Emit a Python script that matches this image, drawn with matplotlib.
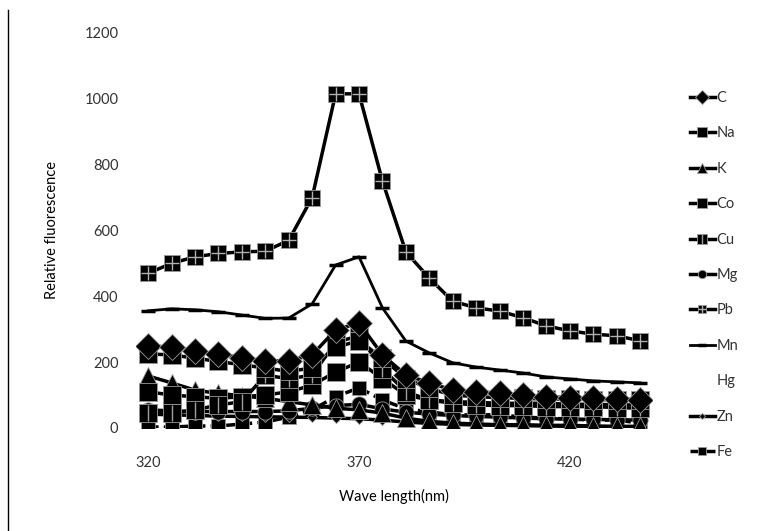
import numpy as np
import matplotlib
matplotlib.use("Agg")
import matplotlib.pyplot as plt
from matplotlib.lines import Line2D
from matplotlib.legend_handler import HandlerTuple

plt.rcParams['font.family'] = ['Lato', 'DejaVu Sans']

# Category axis: 22 readings, labelled every 9th category
n_points = 22
tick_index = [0, 9, 18]
tick_labels = ["320", "370", "420"]

# Relative fluorescence per element
C = [249, 246, 234, 225, 213, 204, 204, 222, 298, 319, 222, 161, 137, 115, 110, 106, 100, 95, 92, 90, 88, 86]
Na = [225, 222, 212, 202, 192, 182, 172, 182, 245, 265, 212, 150, 120, 100, 95, 92, 90, 88, 88, 86, 86, 85]
K = [158, 137, 115, 105, 98, 90, 80, 70, 60, 55, 45, 30, 20, 15, 12, 10, 10, 8, 8, 6, 5, 5]
Co = [110, 100, 95, 90, 95, 100, 110, 130, 170, 200, 150, 100, 85, 80, 78, 75, 75, 75, 72, 72, 70, 70]
Cu = [45, 45, 55, 70, 80, 160, 150, 160, 260, 280, 180, 110, 85, 75, 70, 68, 68, 65, 65, 65, 62, 60]
Mg = [55, 52, 50, 50, 50, 50, 52, 60, 68, 72, 58, 48, 42, 38, 35, 33, 30, 28, 27, 26, 25, 24]
Pb = [470, 500, 520, 530, 535, 537, 570, 700, 1015, 1015, 750, 535, 455, 385, 365, 355, 335, 310, 295, 285, 280, 265]
Mn = [356, 362, 359, 353, 343, 333, 334, 377, 495, 520, 365, 264, 228, 198, 185, 176, 167, 155, 149, 143, 140, 137]
Zn = [42, 40, 38, 36, 35, 34, 33, 32, 30, 28, 24, 18, 14, 11, 9, 8, 7, 6, 5, 4, 4, 3]
Fe = [3, 3, 6, 6, 12, 18, 33, 55, 95, 122, 85, 58, 49, 40, 40, 40, 33, 30, 27, 24, 24, 15]
# Hg is listed in the legend but has no visible line

x = np.arange(n_points)

fig = plt.figure(figsize=(7.58, 5.31), dpi=100)
ax = fig.add_axes([0.180, 0.194, 0.680, 0.744])

lw = 2.5
edge = dict(markeredgecolor="#9a9a9a", markeredgewidth=0.6)

# draw from back to front roughly like the original
h_fe, = ax.plot(x, Fe, color="black", lw=lw, ls=(0, (3, 1.5)), marker="s", ms=10, **edge)
h_zn, = ax.plot(x, Zn, color="black", lw=lw, marker="D", ms=5.5, **edge)
h_mg, = ax.plot(x, Mg, color="black", lw=lw, marker="o", ms=11, **edge)
h_k, = ax.plot(x, K, color="black", lw=lw, marker="^", ms=13, **edge)
h_co, = ax.plot(x, Co, color="black", lw=lw, marker="s", ms=13, **edge)
h_cu, = ax.plot(x, Cu, color="black", lw=lw, marker="s", ms=13, **edge)
h_cu2, = ax.plot(x, Cu, color="none", lw=0, marker="|", ms=12, markeredgecolor="#a0a0a0", markeredgewidth=1.0)
h_na, = ax.plot(x, Na, color="black", lw=lw, marker="s", ms=13, **edge)
h_c, = ax.plot(x, C, color="black", lw=lw, marker="D", ms=13, **edge)
h_mn, = ax.plot(x, Mn, color="black", lw=2.0, marker="_", ms=10, markeredgecolor="black", markeredgewidth=2.5)
h_pb, = ax.plot(x, Pb, color="black", lw=lw, marker="s", ms=11, **edge)
h_pb2, = ax.plot(x, Pb, color="none", lw=0, marker="+", ms=10.5, markeredgecolor="#b0b0b0", markeredgewidth=1.0)
h_hg, = ax.plot([], [], color="none", lw=0)

ax.set_xlim(-0.5, n_points - 0.5)
ax.set_ylim(0, 1200)
ax.set_yticks(range(0, 1201, 200))
ax.set_xticks(tick_index)
ax.set_xticklabels(tick_labels)
for s in ax.spines.values():
    s.set_visible(False)
ax.tick_params(length=0, labelsize=10.5, labelcolor="#333333")
ax.tick_params(axis="y", pad=13)
ax.tick_params(axis="x", pad=20)

ax.set_xlabel("Wave length(nm)", fontsize=10.5, labelpad=14)
ax.set_ylabel("Relative fluorescence", fontsize=10.5, labelpad=18.5)

handles = [h_c, h_na, h_k, h_co, (h_cu, h_cu2), h_mg, (h_pb, h_pb2), h_mn, h_hg, h_zn, h_fe]
labels = ["C", "Na", "K", "Co", "Cu", "Mg", "Pb", "Mn", "Hg", "Zn", "Fe"]
leg = fig.legend(handles, labels, loc="center left", bbox_to_anchor=(0.893, 0.482),
                 frameon=False, fontsize=10.5, handlelength=1.7, handletextpad=0.1,
                 labelspacing=1.47, markerscale=0.55,
                 handler_map={tuple: HandlerTuple(ndivide=1, pad=0)})
for t in leg.get_texts():
    t.set_color("#333333")

# thin frame line on the left edge of the image
fig.add_artist(Line2D([0.0106, 0.0106], [0.0, 0.982], color="black", lw=1.0))

fig.savefig("out.png", dpi=100)
